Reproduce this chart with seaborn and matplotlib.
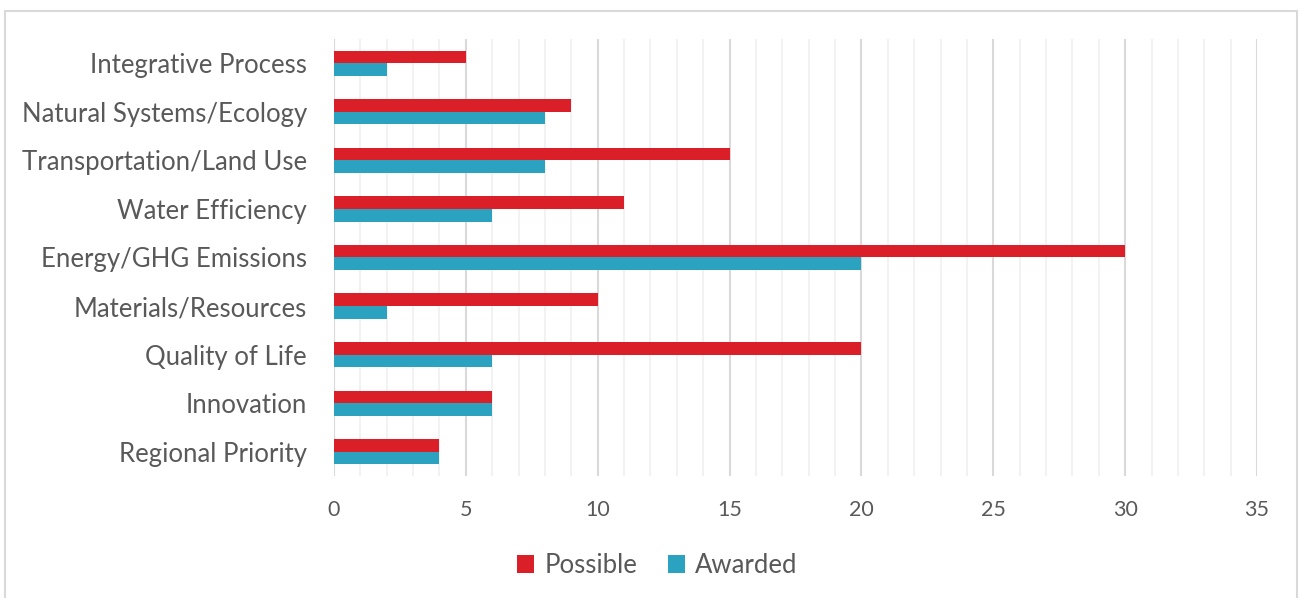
import matplotlib
matplotlib.use("Agg")
import matplotlib.pyplot as plt
import seaborn as sns
import pandas as pd
from matplotlib.patches import Rectangle, Patch
from matplotlib.ticker import MultipleLocator

categories = ["Integrative Process", "Natural Systems/Ecology", "Transportation/Land Use",
              "Water Efficiency", "Energy/GHG Emissions", "Materials/Resources",
              "Quality of Life", "Innovation", "Regional Priority"]
possible = [5, 9, 15, 11, 30, 10, 20, 6, 4]
awarded = [2, 8, 8, 6, 20, 2, 6, 6, 4]
series = ["Possible", "Awarded"]
colors = ["#DA1F28", "#2BA3C0"]
xticks = [0, 5, 10, 15, 20, 25, 30, 35]

df = pd.DataFrame({
    "Category": categories * 2,
    "Series": ["Possible"] * len(categories) + ["Awarded"] * len(categories),
    "Value": possible + awarded,
})

sns.set_theme(style="white")
plt.rcParams['font.family'] = ['Lato', 'DejaVu Sans']
text_color = "#595959"

fig = plt.figure(figsize=(12.99, 5.98), dpi=100)
ax = fig.add_axes([0.2571, 0.204, 0.7106, 0.7308])

sns.barplot(data=df, y="Category", x="Value", hue="Series", order=categories,
            hue_order=series, palette=colors, orient="h", width=0.52,
            saturation=1, ax=ax, legend=False, linewidth=0, zorder=3)

ax.set_xlim(0, 35)
ax.set_xticks(xticks)
ax.set_xticklabels([str(t) for t in xticks])
ax.xaxis.set_minor_locator(MultipleLocator(1))
ax.grid(which="major", axis="x", color="#D9D9D9", linewidth=1.5, zorder=0)
ax.grid(which="minor", axis="x", color="#F0F0F0", linewidth=1.2, zorder=0)
ax.grid(which="major", axis="y", visible=False)
ax.set_axisbelow(True)
for s in ax.spines.values():
    s.set_visible(False)
ax.set_xlabel("")
ax.set_ylabel("")
ax.tick_params(axis="y", labelsize=18.5, colors=text_color, length=0, pad=19.5)
ax.tick_params(axis="x", labelsize=15.5, colors=text_color, length=0, pad=17)
ax.tick_params(which="minor", length=0)

handles = [Patch(facecolor=c, edgecolor="none") for c in colors]
fig.legend(handles, series, loc="center", bbox_to_anchor=(0.506, 0.054), ncol=2,
           frameon=False, fontsize=18.5, labelcolor=text_color,
           handlelength=0.67, handleheight=0.67, handletextpad=0.4, columnspacing=1.2)

fig.patches.append(Rectangle((0.0042, -0.02), 0.9946, 1.0024, transform=fig.transFigure,
                             fill=False, edgecolor="#D9D9D9", linewidth=1.5))

fig.savefig("out.png", dpi=100, facecolor="white")
